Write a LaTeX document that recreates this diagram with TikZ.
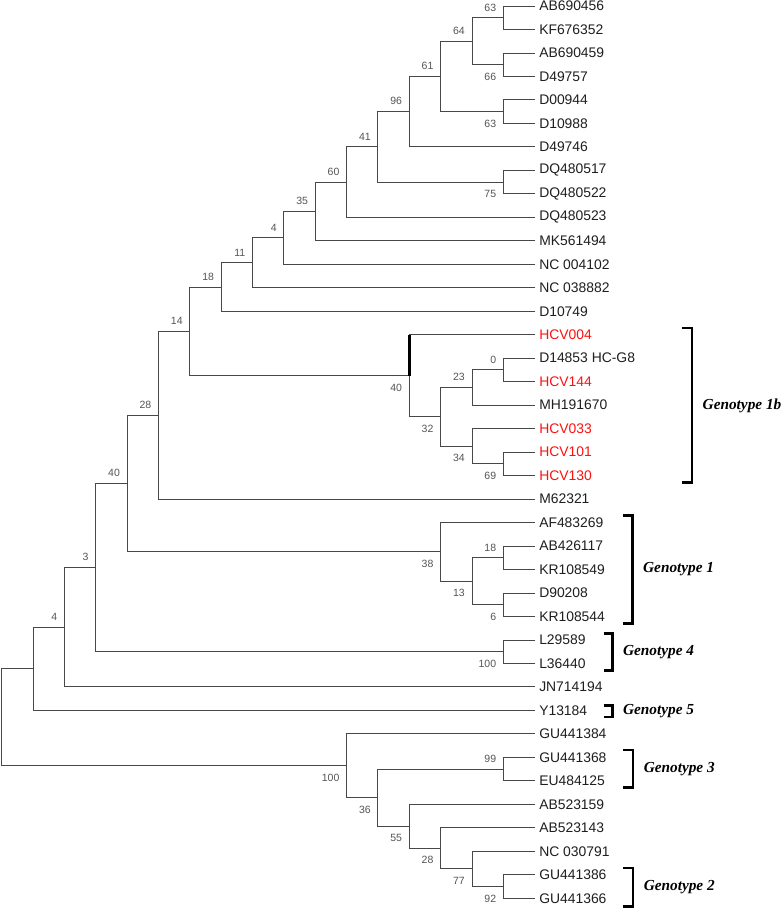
\documentclass[tikz,border=0pt]{standalone}
\usepackage{fontspec}
\setmainfont{Liberation Sans}
\newfontfamily\genofont{Liberation Serif}
\usepackage{xcolor}
\definecolor{branchgray}{RGB}{72,72,72}
\definecolor{bootgray}{RGB}{85,85,85}
\definecolor{hcvred}{RGB}{255,16,16}
\colorlet{leafink}{black!88}

\tikzset{
  branch/.style={draw=branchgray, line width=0.9pt},
  leaf/.style={anchor=west, inner xsep=4.4pt, inner ysep=0pt,
    font=\fontsize{13.9}{16}\selectfont},
  bsup/.style={anchor=south east, inner sep=0pt, xshift=-7pt, yshift=6.4pt,
    font=\fontsize{10.5}{12}\selectfont, text=bootgray},
  bsdown/.style={anchor=north east, inner sep=0pt, xshift=-7pt, yshift=-8pt,
    font=\fontsize{10.5}{12}\selectfont, text=bootgray},
  brk/.style={draw=black, line width=2.6pt},
  geno/.style={anchor=west, inner sep=0pt, xshift=10.5pt,
    font=\genofont\bfseries\itshape\fontsize{15.3}{18}\selectfont}
}

\begin{document}
\begin{tikzpicture}[x=31.35pt, y=-23.48pt]
  % Page frame
  \path[use as bounding box, fill=white] (-0.0542,-0.2555) rectangle (24.922,38.416);

  % Leaves
  \foreach \i/\txt/\clr in {0/AB690456/leafink, 1/KF676352/leafink, 2/AB690459/leafink,
      3/D49757/leafink, 4/D00944/leafink, 5/D10988/leafink, 6/D49746/leafink,
      7/DQ480517/leafink, 8/DQ480522/leafink, 9/DQ480523/leafink, 10/MK561494/leafink,
      11/NC 004102/leafink, 12/NC 038882/leafink, 13/D10749/leafink, 14/HCV004/hcvred,
      15/D14853 HC-G8/leafink, 16/HCV144/hcvred, 17/MH191670/leafink, 18/HCV033/hcvred,
      19/HCV101/hcvred, 20/HCV130/hcvred, 21/M62321/leafink, 22/AF483269/leafink,
      23/AB426117/leafink, 24/KR108549/leafink, 25/D90208/leafink, 26/KR108544/leafink,
      27/L29589/leafink, 28/L36440/leafink, 29/JN714194/leafink, 30/Y13184/leafink,
      31/GU441384/leafink, 32/GU441368/leafink, 33/EU484125/leafink, 34/AB523159/leafink,
      35/AB523143/leafink, 36/NC 030791/leafink, 37/GU441386/leafink, 38/GU441366/leafink} {
    \node[leaf, text=\clr] (l\i) at (17,\i) {\txt};
  }

  % Inner nodes: column / row
  \foreach \n/\c/\r in {b63a/16/0.5, b66/16/2.5, b64/15/1.5, b63b/16/4.5, b61/14/3,
      b96/13/4.5, b75/16/7.5, b41/12/6, b60/11/7.5, b35/10/8.75, b4a/9/9.875,
      b11/8/10.9375, b18a/7/11.96875, b0/16/15.5, b23/15/16.25, b69/16/19.5,
      b34/15/18.75, b32/14/17.5, b40a/13/15.75, b14/6/13.859, b28a/5/17.43,
      b18b/16/23.5, b6/16/25.5, b13/15/24.5, b38/14/23.25, b40b/4/20.34,
      b100a/16/27.5, b3/3/23.92, b4b/2/26.46, b1/1/28.23, b99/16/32.5,
      b92/16/37.5, b77/15/36.75, b28b/14/35.875, b55/13/34.94, b36/12/33.72,
      b100b/11/32.36, root/0/30.3} {
    \coordinate (\n) at (\c,\r);
  }

  % Branches
  \foreach \p/\a/\b in {b63a/l0.west/l1.west, b66/l2.west/l3.west, b64/b63a/b66,
      b63b/l4.west/l5.west, b61/b64/b63b, b96/b61/l6.west, b75/l7.west/l8.west,
      b41/b96/b75, b60/b41/l9.west, b35/b60/l10.west, b4a/b35/l11.west,
      b11/b4a/l12.west, b18a/b11/l13.west, b0/l15.west/l16.west, b23/b0/l17.west,
      b69/l19.west/l20.west, b34/l18.west/b69, b32/b23/b34, b40a/l14.west/b32,
      b14/b18a/b40a, b28a/b14/l21.west, b18b/l23.west/l24.west, b6/l25.west/l26.west,
      b13/b18b/b6, b38/l22.west/b13, b40b/b28a/b38, b100a/l27.west/l28.west,
      b3/b40b/b100a, b4b/b3/l29.west, b1/b4b/l30.west, b99/l32.west/l33.west,
      b92/l37.west/l38.west, b77/l36.west/b92, b28b/l35.west/b77, b55/l34.west/b28b,
      b36/b99/b55, b100b/l31.west/b36, root/b1/b100b} {
    \draw[branch] (\a) -| (\p) |- (\b);
  }
  \draw[draw=black, line width=2.6pt] (b40a) -- (b40a |- l14.west);

  % Bootstrap values
  \foreach \p/\v in {b63a/63, b64/64, b61/61, b96/96, b41/41, b60/60, b35/35, b4a/4,
      b11/11, b18a/18, b14/14, b28a/28, b40b/40, b3/3, b4b/4, b23/23, b0/0,
      b18b/18, b99/99} {
    \node[bsup] (v\p) at (\p) {\v};
  }
  \foreach \p/\v in {b66/66, b63b/63, b75/75, b40a/40, b32/32, b34/34, b69/69,
      b38/38, b13/13, b6/6, b100a/100, b100b/100, b36/36, b55/55, b28b/28,
      b77/77, b92/92} {
    \node[bsdown] (v\p) at (\p) {\v};
  }

  % Genotype brackets
  \foreach \nm/\xa/\xb/\ta/\tb/\txt in {g1b/21.70/22.02/13.72/20.30/1b,
      g1/19.82/20.12/21.71/26.29/1, g4/19.20/19.48/26.72/28.31/4,
      g5/19.20/19.48/29.79/30.28/5, g3/19.82/20.14/31.69/33.29/3,
      g2/19.82/20.14/36.71/38.36/2} {
    \draw[brk] (\xa,\ta) -- (\xb,\ta) -- (\xb,\tb) -- (\xa,\tb);
    \node[geno] (\nm) at (\xb,{(\ta+\tb)/2}) {Genotype \txt};
  }
\end{tikzpicture}
\end{document}
